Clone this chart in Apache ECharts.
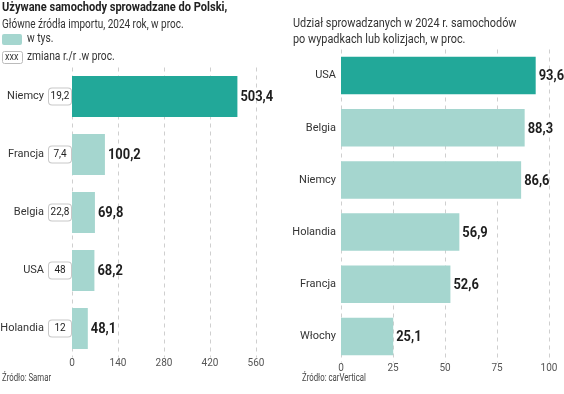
<!DOCTYPE html>
<html><head><meta charset="utf-8">
<script src="https://cdn.jsdelivr.net/npm/echarts@6/dist/echarts.min.js"></script>
<style>html,body{margin:0;padding:0;background:#fff}#c{width:564px;height:394px}</style>
</head><body><div id="c"></div>
<script>
const importCountries = ['Niemcy','Francja','Belgia','USA','Holandia'];
const importValues = [503.4, 100.2, 69.8, 68.2, 48.1];
const importChange = ['19,2','7,4','22,8','48','12'];
const importTicks = [0,140,280,420,560];

const damageCountries = ['USA','Belgia','Niemcy','Holandia','Francja','Włochy'];
const damageValues = [93.6, 88.3, 86.6, 56.9, 52.6, 25.1];
const damageTicks = [0,25,50,75,100];

const DARK = '#22a899', LIGHT = '#a5d6cf';
const FONT = 'Roboto, "Noto Sans", sans-serif';
const fmt = v => String(v.toFixed(1)).replace('.', ',');

function txt(x, y, text, font, sx, fill){
  return {type:'text', x:x, y:y, scaleX:sx, style:{text:text, font:font, fill:fill||'#333'}};
}

function labelSeries(xi, values){
  return {type:'custom', xAxisIndex:xi, yAxisIndex:xi, silent:true, z:5,
    data: values.map((v,i)=>[v,i]),
    encode:{x:0, y:1},
    renderItem:(params, api)=>{
      const p = api.coord([api.value(0), api.value(1)]);
      return {type:'text', x:p[0]+3, y:p[1]+1, scaleX:0.86,
        style:{text:fmt(api.value(0)), font:'bold 15px '+FONT, fill:'#1e1e1e', verticalAlign:'middle', align:'left'}};
    }};
}

const chart = echarts.init(document.getElementById('c'));
const split = {show:true, lineStyle:{type:[4,4], color:'#cfcfcf', width:1}};
chart.setOption({
  animation:false,
  textStyle:{fontFamily:FONT},
  graphic:[
    txt(2, 1, 'Używane samochody sprowadzane do Polski,', 'bold 13.5px '+FONT, 0.82, '#222'),
    txt(2, 18, 'Główne źródła importu, 2024 rok, w proc.', '12.5px '+FONT, 0.8),
    {type:'rect', shape:{x:2, y:34, width:20, height:11, r:2}, style:{fill:LIGHT}},
    txt(27, 32, 'w tys.', '12.5px '+FONT, 0.82),
    {type:'rect', shape:{x:2.5, y:51.5, width:20, height:12, r:2}, style:{fill:'#fff', stroke:'#bbb', lineWidth:1}},
    txt(5, 52, 'xxx', '10px '+FONT, 0.9),
    txt(27, 50, 'zmiana r./r .w proc.', '12.5px '+FONT, 0.82),
    txt(293, 17, 'Udział sprowadzanych w 2024 r. samochodów', '12.5px '+FONT, 0.87),
    txt(293, 33, 'po wypadkach lub kolizjach, w proc.', '12.5px '+FONT, 0.87),
    txt(2, 373, 'Źródło: Samar', '10px '+FONT, 0.78, '#444'),
    txt(302, 373, 'Źródło: carVertical', '10px '+FONT, 0.78, '#444')
  ],
  grid:[
    {left:72, width:184, top:67.5, height:290, outerBoundsMode:'none', containLabel:false},
    {left:341, width:208, top:49.5, height:313, outerBoundsMode:'none', containLabel:false}
  ],
  xAxis:[
    {gridIndex:0, type:'value', min:importTicks[0], max:importTicks[importTicks.length-1], interval:140,
     axisLine:{show:false}, axisTick:{show:false}, splitLine:split,
     axisLabel:{color:'#555', fontSize:10, margin:1}},
    {gridIndex:1, type:'value', min:damageTicks[0], max:damageTicks[damageTicks.length-1], interval:25,
     axisLine:{show:false}, axisTick:{show:false}, splitLine:split,
     axisLabel:{color:'#555', fontSize:10, margin:1}}
  ],
  yAxis:[
    {gridIndex:0, type:'category', data:importCountries, inverse:true,
     axisLine:{show:false}, axisTick:{show:false},
     axisLabel:{margin:1, formatter:(v,i)=>'{n|'+v+'}{b|'+importChange[i]+'}',
       rich:{n:{fontSize:11, color:'#333', padding:[0,5,0,0]},
             b:{fontSize:10, color:'#222', borderColor:'#c8c8c8', borderWidth:1, borderRadius:3,
                width:22, height:16, align:'center', lineHeight:16, backgroundColor:'#fff'}}}},
    {gridIndex:1, type:'category', data:damageCountries, inverse:true,
     axisLine:{show:false}, axisTick:{show:false},
     axisLabel:{margin:5, fontSize:11, color:'#333'}}
  ],
  series:[
    {type:'bar', xAxisIndex:0, yAxisIndex:0, barWidth:41,
     data:importValues.map((v,i)=>({value:v, itemStyle:{color:i===0?DARK:LIGHT}}))},
    {type:'bar', xAxisIndex:1, yAxisIndex:1, barWidth:37.5,
     data:damageValues.map((v,i)=>({value:v, itemStyle:{color:i===0?DARK:LIGHT}}))},
    labelSeries(0, importValues),
    labelSeries(1, damageValues)
  ]
});
</script></body></html>
